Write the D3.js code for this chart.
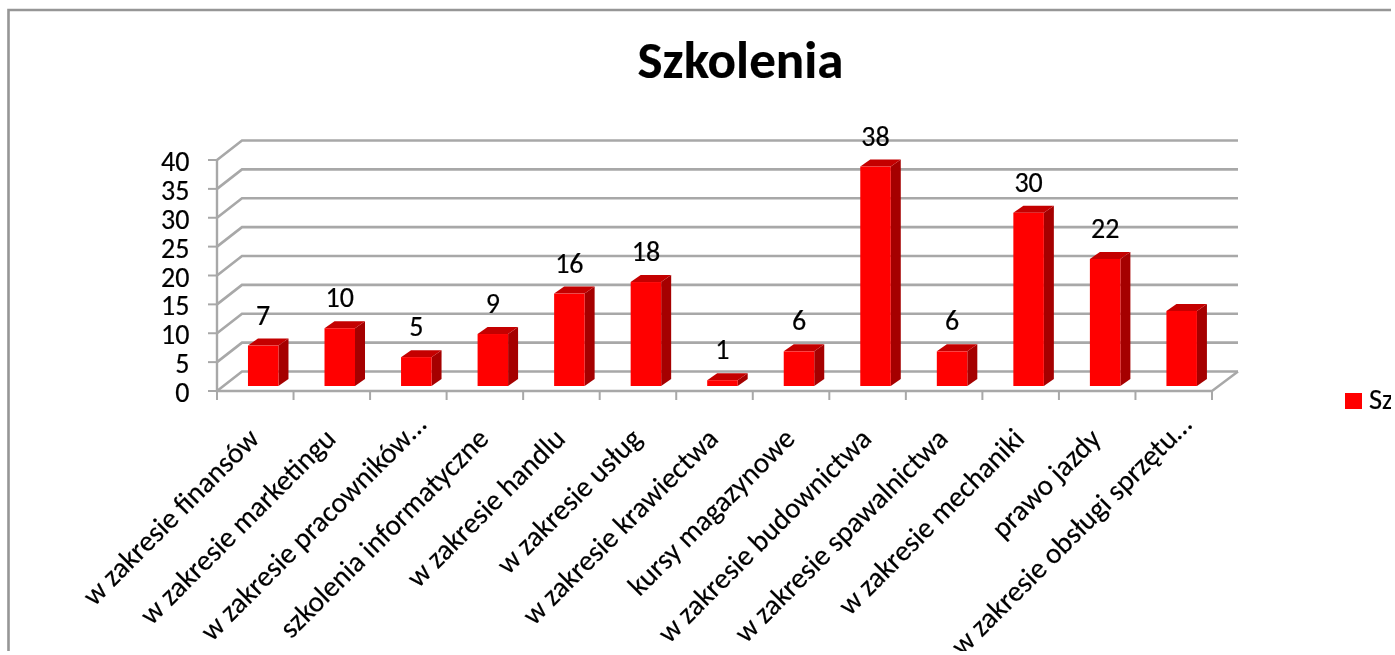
<!DOCTYPE html>
<html><head><meta charset="utf-8">
<script src="https://cdn.jsdelivr.net/npm/d3@7"></script>
<style>html,body{margin:0;padding:0;background:#fff;overflow:hidden}svg{display:block}text{font-family:Carlito,Lato,sans-serif;fill:#000;stroke:#000;stroke-width:0.2px}</style>
</head><body><script>
const categories=["w zakresie finansów","w zakresie marketingu","w zakresie pracowników…","szkolenia informatyczne","w zakresie handlu","w zakresie usług","w zakresie krawiectwa","kursy magazynowe","w zakresie budownictwa","w zakresie spawalnictwa","w zakresie mechaniki","prawo jazdy","w zakresie obsługi sprzętu…"];
const values=[7,10,5,9,16,18,1,6,38,6,30,22,13];
const shownLabels=[7,10,5,9,16,18,1,6,38,6,30,22,null];
const yTicks=[0,5,10,15,20,25,30,35,40];
const title="Szkolenia", legendName="Szkolenia";

const W=1395,H=655;
const svg=d3.select("body").append("svg").attr("width",W).attr("height",H);
const defs=svg.append("defs");
defs.append("filter").attr("id","soft").append("feGaussianBlur").attr("stdDeviation",0.55);
defs.append("clipPath").attr("id","page").append("rect").attr("width",1391).attr("height",651);
const root=svg.append("g").attr("clip-path","url(#page)");
const g=root.append("g").attr("filter","url(#soft)");

// frame
g.append("path").attr("d","M8.5,652V10H1391").attr("fill","none").attr("stroke","#969696").attr("stroke-width",2.6);

const x=d3.scaleBand().domain(categories).range([217,1212]).paddingInner(0).paddingOuter(0);
const y=d3.scaleLinear().domain([0,40]).range([391,160]);
const depthX=25,depthY=-19.5;
const gridC="#a8a8a8";

// gridlines + wall
yTicks.forEach(t=>{
  const yy=y(t);
  g.append("path").attr("d",`M${217},${yy}L${217+depthX},${yy+depthY}H1238`).attr("fill","none").attr("stroke",gridC).attr("stroke-width",2.6);
  g.append("line").attr("x1",208).attr("x2",217).attr("y1",yy).attr("y2",yy).attr("stroke",gridC).attr("stroke-width",2);
  g.append("text").attr("x",189.5).attr("y",yy+1).attr("dy","0.36em").attr("text-anchor","end").attr("font-size",28).text(t);
});
// axes
g.append("path").attr("d",`M217,${y(40)}V${y(0)}H1212L1238,${y(0)+depthY}`).attr("fill","none").attr("stroke",gridC).attr("stroke-width",2.4);
categories.forEach(c=>{g.append("line").attr("x1",x(c)).attr("x2",x(c)).attr("y1",391).attr("y2",400).attr("stroke",gridC).attr("stroke-width",2);});
g.append("line").attr("x1",1212).attr("x2",1212).attr("y1",391).attr("y2",400).attr("stroke",gridC).attr("stroke-width",2);

// bars
const barW=30.5,sideX=10,sideY=-7,barBase=386;
const h=d3.scaleLinear().domain([0,40]).range([0,231]);
const bars=g.selectAll("g.bar").data(categories.map((c,i)=>({c,v:values[i],l:shownLabels[i]}))).join("g");
bars.each(function(d){
  const s=d3.select(this);
  const l=x(d.c)+x.bandwidth()/2-7.3, r=l+barW, t=barBase-h(d.v);
  s.append("path").attr("d",`M${r},${t}L${r+sideX},${t+sideY}V${barBase+sideY}L${r},${barBase}Z`).attr("fill","#a50000");
  s.append("path").attr("d",`M${l},${t}L${l+sideX},${t+sideY}H${r+sideX}L${r},${t}Z`).attr("fill","#c40000");
  s.append("rect").attr("x",l).attr("y",t).attr("width",barW).attr("height",h(d.v)).attr("fill","#ff0000");
  if(d.l!==null) s.append("text").attr("x",l+barW/2).attr("y",t-21).attr("text-anchor","middle").attr("font-size",28).text(d.l);
});
// category labels
categories.forEach(c=>{
  const extra=c.endsWith("…")?14:0;
  const cx=x(c)+x.bandwidth()/2-2+extra;
  g.append("text").attr("transform",`translate(${cx},${433-extra}) rotate(-45)`).attr("text-anchor","end").attr("dy","0.36em").attr("font-size",29).text(c);
});
// title
g.append("text").attr("x",740.5).attr("y",78).attr("text-anchor","middle").attr("font-size",53).attr("font-weight",700).text(title);
// legend
g.append("rect").attr("x",1345).attr("y",393).attr("width",17).attr("height",16).attr("fill","#ff0000");
g.append("text").attr("x",1369).attr("y",408.5).attr("font-size",28.5).text(legendName);
</script></body></html>
